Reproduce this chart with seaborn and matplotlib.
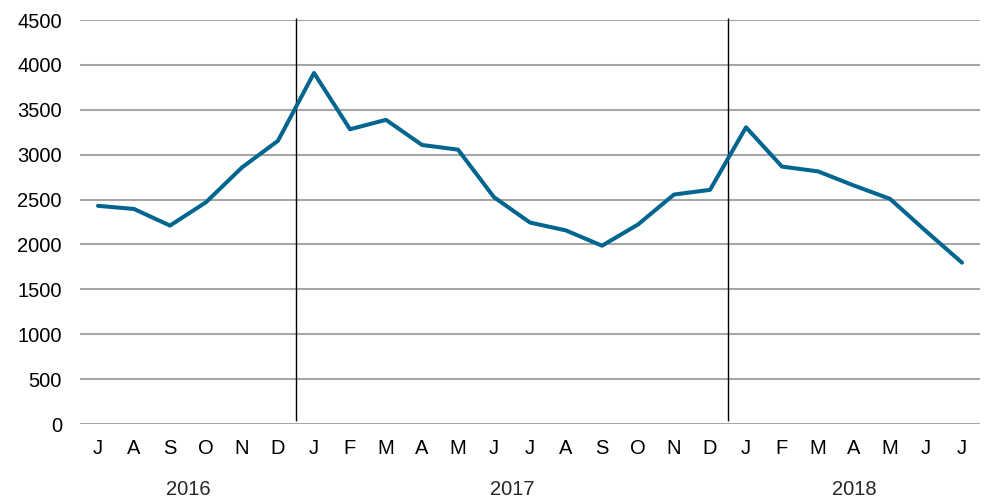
import matplotlib

matplotlib.use("Agg")
import matplotlib.pyplot as plt
import numpy as np
import pandas as pd
import seaborn as sns

# monthly values, Jul 2016 .. Jul 2018
months = ["J", "A", "S", "O", "N", "D",
          "J", "F", "M", "A", "M", "J", "J", "A", "S", "O", "N", "D",
          "J", "F", "M", "A", "M", "J", "J"]
values = [2430, 2395, 2210, 2470, 2858, 3155,
          3910, 3283, 3388, 3108, 3056, 2526, 2244, 2156, 1986, 2222, 2556, 2608,
          3305, 2867, 2814, 2656, 2508, 2148, 1797]
years = ["2016", "2017", "2018"]
year_spans = [(0, 5), (6, 17), (18, 24)]
year_breaks = [5.5, 17.5]

df = pd.DataFrame({"idx": np.arange(len(values)), "value": values})

sns.set_style("white")
plt.rcParams["font.family"] = ["Liberation Sans", "DejaVu Sans"]

fig = plt.figure(figsize=(9.89, 4.98), dpi=100)
ax = fig.add_axes([80 / 989, 74 / 498, 900 / 989, 404 / 498])

for yv in np.arange(0, 4501, 500):
    ax.axhline(yv, color="#a6a6a6", lw=1.5, zorder=1)

sns.lineplot(data=df, x="idx", y="value", color="#00658f", lw=2.9, ax=ax, zorder=3)

for xb in year_breaks:
    ax.vlines(xb, 33, 4522, color="black", lw=1, zorder=2, clip_on=False)

ax.set_xlim(-0.5, 24.5)
ax.set_ylim(0, 4500)
ax.set_yticks(np.arange(0, 4501, 500))
ax.set_xticks(df["idx"])
ax.set_xticklabels(months)
ax.tick_params(axis="both", length=0, labelsize=14.5, colors="black")
ax.tick_params(axis="y", pad=13)
ax.tick_params(axis="x", pad=11)
ax.set_xlabel("")
ax.set_ylabel("")
for s in ax.spines.values():
    s.set_visible(False)

for label, (a, b) in zip(years, year_spans):
    ax.text((a + b) / 2, -0.161, label, transform=ax.get_xaxis_transform(),
            ha="center", va="center", fontsize=14.5)

fig.savefig("out.png", dpi=100)
